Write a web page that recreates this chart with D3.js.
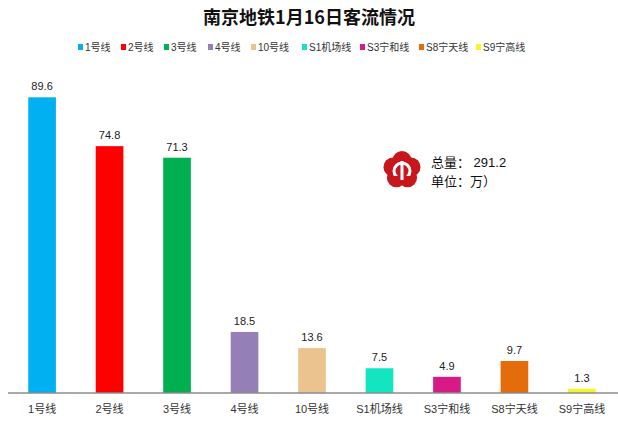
<!DOCTYPE html>
<meta charset="utf-8">
<script src="https://d3js.org/d3.v7.min.js"></script>
<style>
  body { margin: 0; background: #fff; }
  text { font-family: "Liberation Sans", "Noto Sans CJK SC", sans-serif; }
</style>
<div id="my_dataviz"></div>
<script>

// data
var lines = ["1号线", "2号线", "3号线", "4号线", "10号线", "S1机场线", "S3宁和线", "S8宁天线", "S9宁高线"];
var riders = [89.6, 74.8, 71.3, 18.5, 13.6, 7.5, 4.9, 9.7, 1.3];
var colors = ["#00b0f0", "#ff0000", "#00b050", "#9480b6", "#eac38e", "#12e5c0", "#d81b84", "#e46c0a", "#f5f52a"];
var total = "291.2";

var width = 618, height = 433;
var margin = {top: 63, right: 2, bottom: 40, left: 8};

var svg = d3.select("#my_dataviz")
  .append("svg")
  .attr("width", width)
  .attr("height", height);

// scales
var x = d3.scaleBand()
  .domain(lines)
  .range([margin.left, width - margin.right])
  .paddingInner(0.59)
  .paddingOuter(0.3);

var y = d3.scaleLinear()
  .domain([0, 100])
  .range([height - margin.bottom, margin.top]);

var color = d3.scaleOrdinal().domain(lines).range(colors);

// title
svg.append("text")
  .attr("x", width / 2)
  .attr("y", 24)
  .attr("text-anchor", "middle")
  .style("font-family", "'Noto Sans CJK SC', sans-serif")
  .style("font-weight", "bold")
  .style("font-size", "18px")
  .style("fill", "#111")
  .text("南京地铁1月16日客流情况");

// legend
var legendX = [78, 121, 164, 208, 251, 302, 360, 419, 476];
var legend = svg.selectAll(".legend")
  .data(lines)
  .enter()
  .append("g")
  .attr("class", "legend")
  .attr("transform", function(d, i) { return "translate(" + legendX[i] + ",51)"; });

legend.append("rect")
  .attr("x", 0).attr("y", -7)
  .attr("width", 5).attr("height", 6)
  .style("fill", function(d) { return color(d); });

legend.append("text")
  .attr("x", 7).attr("y", 0)
  .style("font-size", "10px")
  .style("fill", "#333")
  .text(function(d) { return d; });

// bars
svg.selectAll(".bar")
  .data(lines)
  .enter()
  .append("rect")
  .attr("class", "bar")
  .attr("x", function(d) { return x(d); })
  .attr("width", x.bandwidth())
  .attr("y", function(d, i) { return y(riders[i]); })
  .attr("height", function(d, i) { return y(0) - y(riders[i]); })
  .style("fill", function(d) { return color(d); });

// value labels
svg.selectAll(".val")
  .data(lines)
  .enter()
  .append("text")
  .attr("x", function(d) { return x(d) + x.bandwidth() / 2; })
  .attr("y", function(d, i) { return y(riders[i]) - 7; })
  .attr("text-anchor", "middle")
  .style("font-size", "11px")
  .style("fill", "#222")
  .text(function(d, i) { return riders[i]; });

// x axis
var xAxis = svg.append("g")
  .attr("transform", "translate(0," + y(0) + ")")
  .call(d3.axisBottom(x).tickSize(0).tickPadding(12));
xAxis.select(".domain").attr("d", "M" + margin.left + ",0H" + width).style("stroke", "#8c8c8c").style("stroke-width", 1.5);
xAxis.selectAll("text")
  .style("font-family", "'Liberation Sans', 'Noto Sans CJK SC', sans-serif")
  .style("font-size", "11px")
  .style("fill", "#333");

// logo
var logo = svg.append("g").attr("transform", "translate(402,170)");
d3.range(5).forEach(function(k) {
  var a = -Math.PI / 2 + k * 2 * Math.PI / 5;
  logo.append("circle")
    .attr("cx", 9.5 * Math.cos(a)).attr("cy", 9.5 * Math.sin(a))
    .attr("r", 9.5)
    .style("fill", "#c8161d");
});
logo.append("circle").attr("r", 11).style("fill", "#c8161d");
logo.append("circle").attr("r", 8).attr("cy", 1).style("fill", "none").style("stroke", "#fff").style("stroke-width", 3);
logo.append("rect").attr("x", -12).attr("y", 6).attr("width", 24).attr("height", 6).style("fill", "#c8161d");
logo.append("line").attr("x1", 0).attr("x2", 0).attr("y1", -9).attr("y2", 10).style("stroke", "#fff").style("stroke-width", 3);

svg.append("text")
  .attr("x", 431).attr("y", 167)
  .style("font-size", "13px")
  .style("fill", "#111")
  .text("总量： " + total);
svg.append("text")
  .attr("x", 431).attr("y", 186)
  .style("font-size", "13px")
  .style("fill", "#111")
  .text("单位：万）");

</script>
